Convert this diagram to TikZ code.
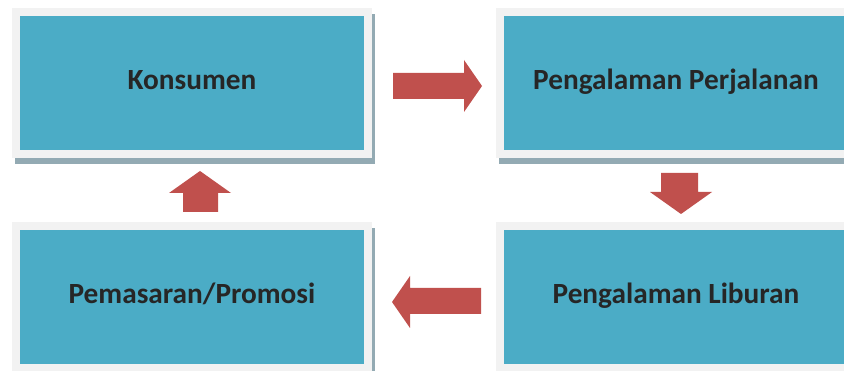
\documentclass[tikz,border=0pt]{standalone}
\usepackage{fontspec}
\setmainfont{Carlito}
\usetikzlibrary{shadows}
\definecolor{boxblue}{HTML}{4BACC6}
\definecolor{framegray}{HTML}{F2F2F2}
\definecolor{shadowc}{HTML}{93AAB3}
\definecolor{arrowred}{HTML}{C0504D}
\definecolor{txt}{HTML}{262626}
\tikzset{
  stagebox/.style={
    fill=framegray, draw=none,
    minimum width=360pt, minimum height=150pt, inner sep=0pt,
    font=\bfseries\fontsize{29.3}{31}\selectfont, text=txt,
    text height=14pt, text depth=0pt,
    drop shadow={shadow xshift=3pt, shadow yshift=-6pt, fill=shadowc, opacity=1},
    path picture={
      \fill[boxblue]
        ([shift={(8pt,8pt)}]path picture bounding box.south west)
        rectangle
        ([shift={(-8pt,-8pt)}]path picture bounding box.north east);
    }
  },
  blockarrow/.style={fill=arrowred, draw=none}
}
\begin{document}
\begin{tikzpicture}[x=1pt,y=-1pt]
  \useasboundingbox (0,0) rectangle (844,371);
  \fill[white] (0,0) rectangle (844,371);

  % the four stages of the cycle
  \node[stagebox] (kons) at (192,83)  {Konsumen};
  \node[stagebox] (perj) at (676,83)  {Pengalaman Perjalanan};
  \node[stagebox] (libu) at (676,297) {Pengalaman Liburan};
  \node[stagebox] (prom) at (192,297) {Pemasaran/Promosi};

  % block arrows between the stages (shaft start, then outline)
  \coordinate (a1) at (393,86);
  \fill[blockarrow] (a1) ++(0,-13) -- ++(71,0) -- ++(0,-13) -- ++(18,26)
      -- ++(-18,26) -- ++(0,-13) -- ++(-71,0) -- cycle;
  \coordinate (a2) at (679.5,173);
  \fill[blockarrow] (a2) ++(-18.5,0) -- ++(37,0) -- ++(0,19) -- ++(14,0)
      -- ++(-31,22) -- ++(-31,-22) -- ++(11,0) -- cycle;
  \coordinate (a3) at (481,301);
  \fill[blockarrow] (a3) ++(0,-13) -- ++(0,26) -- ++(-71,0) -- ++(0,14)
      -- ++(-18,-26) -- ++(18,-26) -- ++(0,12) -- cycle;
  \coordinate (a4) at (200.5,212);
  \fill[blockarrow] (a4) ++(-17.5,0) -- ++(35,0) -- ++(0,-19) -- ++(13,0)
      -- ++(-31,-22) -- ++(-31,22) -- ++(14,0) -- cycle;
\end{tikzpicture}
\end{document}
